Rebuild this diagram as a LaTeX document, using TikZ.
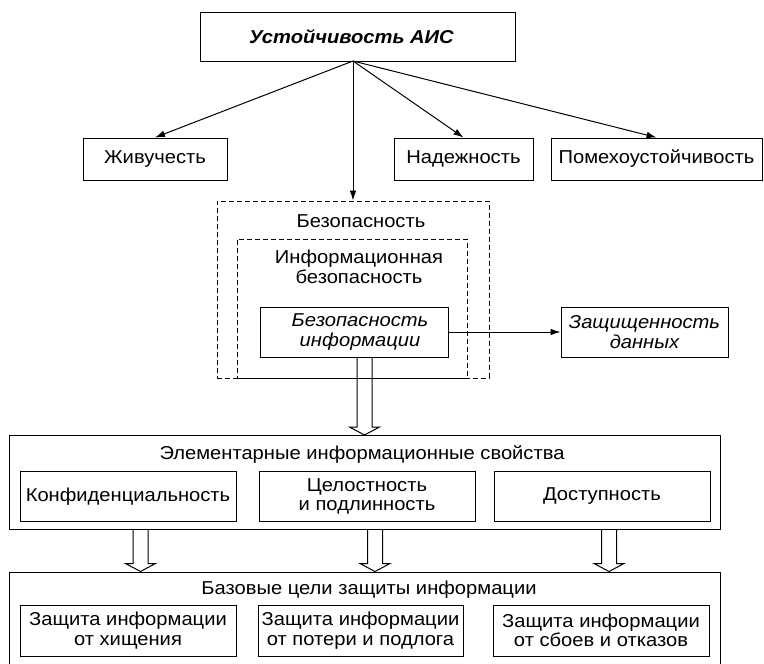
\documentclass[tikz,border=0pt]{standalone}
\usepackage{fontspec}
\setmainfont{Liberation Sans}[FakeStretch=1.08]
\usetikzlibrary{arrows.meta,calc}

\tikzset{every picture/.style={line width=0.75pt}}
\tikzset{
  box/.style={draw, rectangle, inner sep=0pt, align=center, font=\fontsize{14}{14.6}\selectfont},
  dashbox/.style={draw, rectangle, inner sep=0pt, dash pattern=on 3.75pt off 2.25pt},
  txt/.style={inner sep=0pt, align=center, font=\fontsize{14}{14.6}\selectfont},
  arr/.style={-{Latex[length=7.5pt,width=5pt]}},
}
% open block arrow: #1 x position, #2 start, #3 end
\newcommand{\hollowarrow}[3]{%
  \draw ($(#2 -| #1)+(-7.5,0)$) -- ($(#3 -| #1)+(-7.5,-8)$) -- ++(-7.5,0) -- (#3 -| #1)
    -- ($(#3 -| #1)+(15,-8)$) -- ++(-7.5,0) -- ($(#2 -| #1)+(7.5,0)$);
}

\begin{document}
\begin{tikzpicture}[x=0.75pt,y=0.75pt,yscale=-1,xscale=1]
\useasboundingbox (0,0) rectangle (764,664);
\clip (0,0) rectangle (764,664);

%Shape: Rectangle [top]
\node [box, minimum width=236.25pt, minimum height=36.75pt, font=\fontsize{14}{15}\selectfont\bfseries\itshape] (ustoich) at (357.5,36.5) {Устойчивость АИС\hspace*{9pt}};
\coordinate (hub) at (353,61);

%Shape: Rectangle [second row]
\node [box, minimum width=108pt, minimum height=31.5pt] (zhiv) at (155,159) {Живучесть};
\node [box, minimum width=104.25pt, minimum height=31.5pt] (nadezh) at (463.5,159) {Надежность};
\node [box, minimum width=158.25pt, minimum height=31.5pt] (pomekh) at (656.5,159) {Помехоустойчивость};

%Shape: Dashed frames
\node [dashbox, minimum width=204pt, minimum height=132.75pt] (bezop) at (353,289.5) {};
\node [dashbox, minimum width=172.5pt, minimum height=104.25pt] (infbezop) at (352,308.5) {};
% Text Node
\node [txt] (bezoplbl) at (361,221) {Безопасность};
% Text Node
\node [txt] (infbezoplbl) at (359,267) {Информационная\\безопасность};

\node [box, minimum width=141pt, minimum height=37.5pt, font=\fontsize{14}{14.6}\selectfont\itshape] (binfo) at (354,332) {\hspace*{9pt}Безопасность\\\hspace*{9pt}информации};
\node [box, minimum width=125.25pt, minimum height=37.5pt, font=\fontsize{14}{14.6}\selectfont\itshape] (zdan) at (644.5,332) {Защищенность\\данных};

%Shape: Rectangle [elementary properties]
\node [box, minimum width=533.25pt, minimum height=70.125pt] (elem) at (364.5,482.25) {};
% Text Node
\node [txt] (elemlbl) at (362,455) {Элементарные информационные свойства};
\node [box, minimum width=162pt, minimum height=37.125pt] (konf) at (128,496.25) {Конфиденциальность};
\node [box, minimum width=162pt, minimum height=37.125pt] (celost) at (367,496.25) {Целостность\\и подлинность};
\node [box, minimum width=162pt, minimum height=37.125pt] (dostup) at (602,496.25) {Доступность};

%Shape: Rectangle [base goals]
\node [box, minimum width=533.25pt, minimum height=75pt] (base) at (364.5,622) {};
% Text Node
\node [txt] (baselbl) at (369,590) {Базовые цели защиты информации};
\node [box, minimum width=162pt, minimum height=38.25pt] (goalA) at (128,630.5) {Защита информации\\от хищения};
\node [box, minimum width=153.75pt, minimum height=38.25pt] (goalB) at (360.5,630.5) {Защита информации\\от потери и подлога};
\node [box, minimum width=162pt, minimum height=38.25pt] (goalC) at (601,630.5) {Защита информации\\от сбоев и отказов};

% connectors
\draw [arr] (hub) -- (zhiv.north);
\draw [arr] (hub) -- (bezop.north);
\draw [arr] (hub) -- (nadezh.north);
\draw [arr] (hub) -- (pomekh.north);
\draw [arr] (binfo.east) -- (zdan.west);

% block arrows
\coordinate (haA) at (364.5,0);
\coordinate (haB) at (140.5,0);
\coordinate (haC) at (375,0);
\coordinate (haD) at (609,0);
\hollowarrow{haA}{binfo.south}{elem.north}
\hollowarrow{haB}{elem.south}{base.north}
\hollowarrow{haC}{elem.south}{base.north}
\hollowarrow{haD}{elem.south}{base.north}
\end{tikzpicture}
\end{document}
